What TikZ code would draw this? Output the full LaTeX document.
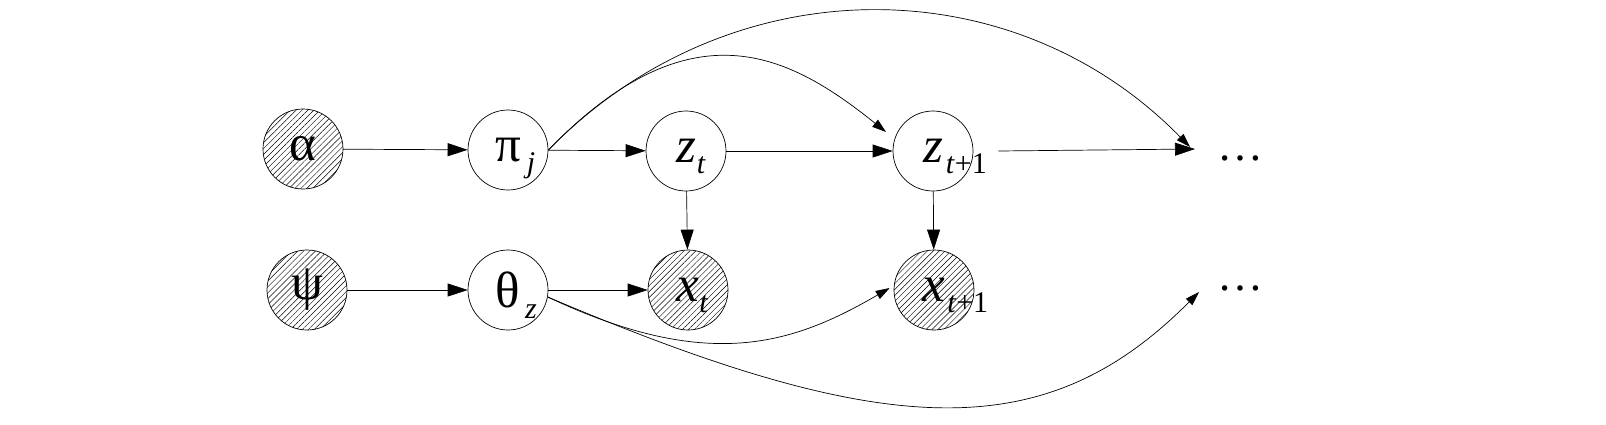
\documentclass[tikz,border=0pt]{standalone}
\usepackage{fontspec}
\setmainfont{Liberation Serif}
\usetikzlibrary{arrows.meta,patterns.meta}
\newcommand\mysub[2][0pt]{\rlap{\hspace{#1}\smash{\raisebox{-11pt}{\fontsize{30}{30}\selectfont #2}}}}
\begin{document}
\begin{tikzpicture}[x=1pt,y=-1pt,
  var/.style={circle,draw=black,line width=0.7pt,minimum size=80pt,inner sep=0pt,font=\fontsize{51}{51}\selectfont},
  obs/.style={var,pattern={Lines[angle=45,distance=4.2pt,line width=0.45pt]},pattern color=black},
  arr/.style={-{Triangle[length=20pt,width=13pt]},line width=0.7pt,draw=black},
  carr/.style={-{Triangle[length=14pt,width=9pt]},line width=0.7pt,draw=black},
  dots/.style={font=\fontsize{46}{46}\selectfont,anchor=base,inner sep=0pt}]
\useasboundingbox (0,0) rectangle (1606,424);
\node[obs] (a) at (303,149) {α};
\node[var] (pi) at (508,150) {π\mysub[6pt]{\textit{j}}};
\node[var] (zt) at (686,151) {\textit{z}\mysub[1pt]{\textit{t}}};
\node[var] (z2) at (933,151) {\textit{z}\mysub[3pt]{\textit{t}+1}};
\node[obs] (psi) at (307,290) {ψ};
\node[var] (th) at (508,290) {θ\mysub[5pt]{\textit{z}}};
\node[obs] (xt) at (688,290) {\textit{x}\mysub[0pt]{\textit{t}}};
\node[obs] (x2) at (934,290) {\textit{x}\mysub[2pt]{\textit{t}+1}};
\node[dots] (d1) at (1240,160) {…};
\node[dots] (d2) at (1240,290) {…};
\coordinate (d1in) at (1195,149);
\coordinate (d2in) at (1199,292);
\draw[arr] (a) -- (pi);
\draw[arr] (pi) -- (zt);
\draw[arr] (zt) -- (z2);
\draw[arr] ([xshift=25pt]z2.east) -- (d1in);
\draw[arr] (zt) -- (xt);
\draw[arr] (z2) -- (x2);
\draw[arr] (psi) -- (th);
\draw[arr] (th) -- (xt);
\draw[carr] (pi.east) .. controls (692,2) and (790,55) .. ([xshift=-47pt,yshift=19pt]z2.center);
\draw[carr] (pi.east) .. controls (729,-35) and (1012,-35) .. ([xshift=-5pt,yshift=2pt]d1in);
\draw[carr] (th.-10) .. controls (709,373) and (793,344) .. ([xshift=-4pt,yshift=2pt]x2.west);
\draw[carr] (th.-10) .. controls (889,442) and (1046,446) .. (d2in);
\end{tikzpicture}
\end{document}
